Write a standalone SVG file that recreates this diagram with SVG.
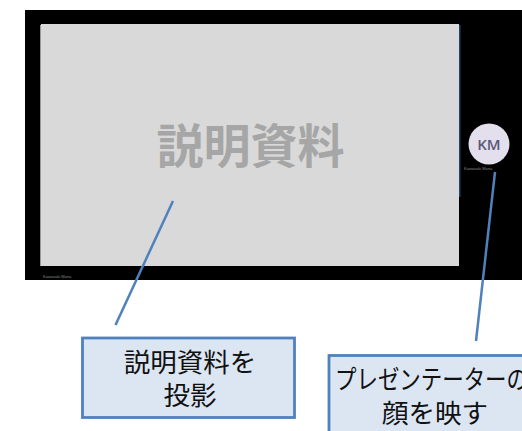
<svg xmlns="http://www.w3.org/2000/svg" width="522" height="431" viewBox="0 0 522 431">
<style>
.cjk{font-family:"Noto Sans CJK JP","Noto Sans CJK SC",sans-serif}
.cap{font-size:26.500px;fill:#111;text-anchor:middle}
.box{fill:#dce6f2;stroke:#4f81bd;stroke-width:2.800}
.link{stroke:#4f81bd;stroke-width:2.500;fill:none}
.tiny{font-family:"Liberation Sans",sans-serif;font-size:4px;fill:#888}
</style>
<rect width="522" height="431" fill="#fff"/>
<g id="screen">
<rect x="25" y="10" width="497" height="270" fill="#000"/>
<rect x="40" y="25" width="2" height="241" fill="#999"/>
<rect x="459" y="25" width="1.500" height="172" fill="#1f4468"/>
<rect x="41" y="24" width="418" height="242" fill="#d9d9d9"/>
<text class="cjk" x="250.500" y="163" font-size="47" font-weight="700" fill="#a6a6a6" text-anchor="middle">説明資料</text>
<text class="tiny" x="43" y="278">Kawasaki Mana</text>
</g>
<g id="presenter">
<circle cx="489" cy="144" r="20.500" fill="#e3dfec"/>
<text x="489" y="149.500" font-family="'Open Sans','Liberation Sans',sans-serif" font-size="15" font-weight="600" fill="#5b5878" text-anchor="middle">KM</text>
<text class="tiny" x="464" y="170">Kawasaki Mana</text>
</g>
<g id="connectors">
<line class="link" x1="173" y1="201" x2="115.500" y2="325"/>
<line class="link" x1="495" y1="172" x2="476" y2="341"/>
</g>
<g id="caption-slides">
<rect class="box" x="82.500" y="338" width="212" height="79.500"/>
<text class="cjk cap" x="190" y="372">説明資料を</text>
<text class="cjk cap" x="190" y="405">投影</text>
</g>
<g id="caption-presenter">
<rect class="box" x="329" y="355.500" width="200" height="80"/>
<text class="cjk cap" x="335" y="389" style="text-anchor:start" textLength="193" lengthAdjust="spacingAndGlyphs">プレゼンテーターの</text>
<text class="cjk cap" x="435" y="423">顔を映す</text>
</g>
</svg>
